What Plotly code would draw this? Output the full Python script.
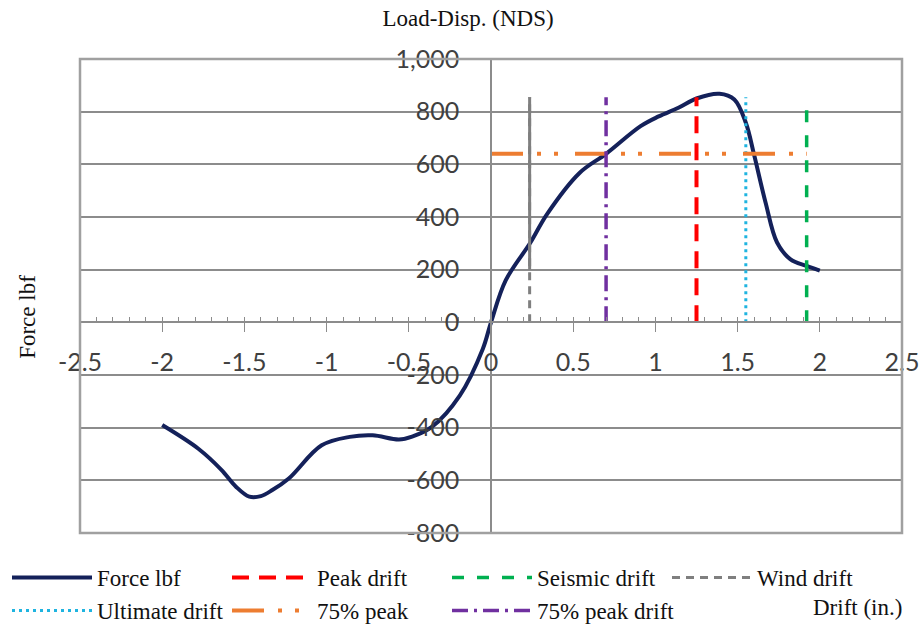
import plotly.graph_objects as go

# ---- data ----
drift = [-2.0, -1.78, -1.64, -1.55, -1.47, -1.40, -1.33, -1.23, -1.03, -0.86, -0.72, -0.56, -0.48,
         -0.36, -0.19, -0.05, 0.0, 0.09, 0.24, 0.34, 0.54, 0.70, 0.91, 1.02, 1.14,
         1.25, 1.39, 1.48, 1.55, 1.60, 1.67, 1.74, 1.82, 1.92, 2.0]
force = [-390, -480, -560, -625, -662, -660, -637, -593, -467, -435, -429, -445, -434,
         -397, -278, -101, 0, 160, 303, 410, 568, 640, 745, 782, 815,
         850, 868, 846, 758, 637, 455, 303, 240, 214, 196]

peak_drift = 1.25
seismic_drift = 1.92
wind_drift = 0.235
ultimate_drift = 1.55
peak75_drift = 0.70
peak75_force = 640
line_bottom = 0
line_top = 855
wind_solid_bottom = 200

x_ticks = [-2.5, -2, -1.5, -1, -0.5, 0, 0.5, 1, 1.5, 2, 2.5]
x_tick_labels = ["-2.5", "-2", "-1.5", "-1", "-0.5", "0", "0.5", "1", "1.5", "2", "2.5"]
y_ticks = [-800, -600, -400, -200, 0, 200, 400, 600, 800, 1000]
y_tick_labels = ["-800", "-600", "-400", "-200", "0", "200", "400", "600", "800", "1,000"]

SERIF = "Liberation Serif, Times New Roman, serif"
SANS = "Lato, Carlito, Calibri, sans-serif"
GRID = "#8c8c8c"

fig = go.Figure()

fig.add_trace(go.Scatter(x=drift, y=force, mode="lines", name="Force lbf",
                         line=dict(color="#14215a", width=4, shape="spline", smoothing=1.0)))
fig.add_trace(go.Scatter(x=[peak_drift, peak_drift], y=[line_bottom, line_top], mode="lines",
                         name="Peak drift", line=dict(color="#ff0000", width=4, dash="17px,10px")))
fig.add_trace(go.Scatter(x=[seismic_drift, seismic_drift], y=[line_bottom, line_top], mode="lines",
                         name="Seismic drift", line=dict(color="#00b050", width=3.5, dash="12px,13px")))
fig.add_trace(go.Scatter(x=[wind_drift, wind_drift], y=[line_bottom, line_top], mode="lines",
                         name="Wind drift", line=dict(color="#7f7f7f", width=3, dash="8px,6px")))
fig.add_trace(go.Scatter(x=[wind_drift, wind_drift], y=[wind_solid_bottom, line_top], mode="lines",
                         showlegend=False, hoverinfo="skip",
                         line=dict(color="#7f7f7f", width=3)))
fig.add_trace(go.Scatter(x=[ultimate_drift, ultimate_drift], y=[line_bottom, line_top], mode="lines",
                         name="Ultimate drift", line=dict(color="#1fb4e0", width=3, dash="3px,4px")))
fig.add_trace(go.Scatter(x=[0, seismic_drift], y=[peak75_force, peak75_force], mode="lines",
                         name="75% peak",
                         line=dict(color="#ed7d31", width=4, dash="32px,14px,4px,13px,4px,17px")))
fig.add_trace(go.Scatter(x=[peak75_drift, peak75_drift], y=[line_bottom, line_top], mode="lines",
                         name="75% peak drift",
                         line=dict(color="#7030a0", width=3.5, dash="16px,6px,3px,6px")))

fig.update_layout(
    width=924, height=631,
    margin=dict(l=80, r=22, t=59, b=98, autoexpand=False),
    paper_bgcolor="white", plot_bgcolor="white",
    title=dict(text="Load-Disp. (NDS)", x=468 / 924, y=1 - 18 / 631,
               xref="container", yref="container", xanchor="center", yanchor="middle",
               font=dict(family=SERIF, size=23, color="#111111")),
    xaxis=dict(range=[-2.5, 2.5], domain=[0, 1], anchor="free", position=800 / 1800,
               showgrid=False, zeroline=False, showline=True, linecolor=GRID, linewidth=1.5,
               tickmode="array", tickvals=x_ticks, ticktext=x_tick_labels,
               ticks="outside", ticklen=9, tickwidth=1.3, tickcolor=GRID, ticklabelstandoff=9,
               tickfont=dict(family=SANS, size=25, color="#404040"),
               minor=dict(tick0=0, dtick=0.1, ticks="inside", ticklen=5, tickwidth=1,
                          tickcolor=GRID, showgrid=False)),
    yaxis=dict(range=[-800, 1000], domain=[0, 1], anchor="free", position=0.5,
               showgrid=True, gridcolor=GRID, gridwidth=1.5, zeroline=False,
               showline=True, linecolor=GRID, linewidth=1.5,
               tickmode="array", tickvals=y_ticks, ticktext=y_tick_labels,
               ticks="", ticklabelstandoff=26,
               tickfont=dict(family=SANS, size=25, color="#404040")),
    legend=dict(orientation="h", xref="paper", yref="paper", x=(7 - 80) / 822, y=-(556 - 533) / 473,
                xanchor="left", yanchor="top", itemwidth=80, entrywidth=125,
                font=dict(family=SERIF, size=23, color="#111111"),
                bgcolor="rgba(0,0,0,0)", tracegroupgap=0),
    annotations=[
        dict(text="Force lbf", xref="paper", yref="paper", x=-52 / 822, y=0.456,
             xanchor="center", yanchor="middle", textangle=-90, showarrow=False,
             font=dict(family=SERIF, size=23, color="#111111")),
        dict(text="Drift (in.)", xref="paper", yref="paper", x=(857 - 80) / 822, y=-(607 - 533) / 473,
             xanchor="center", yanchor="middle", showarrow=False,
             font=dict(family=SERIF, size=23, color="#111111")),
    ],
    shapes=[dict(type="rect", xref="paper", yref="paper", x0=0, x1=1, y0=0, y1=1,
                 line=dict(color="#a0a0a0", width=2.5), layer="above")],
    showlegend=True,
)

fig.write_html("out.html")
